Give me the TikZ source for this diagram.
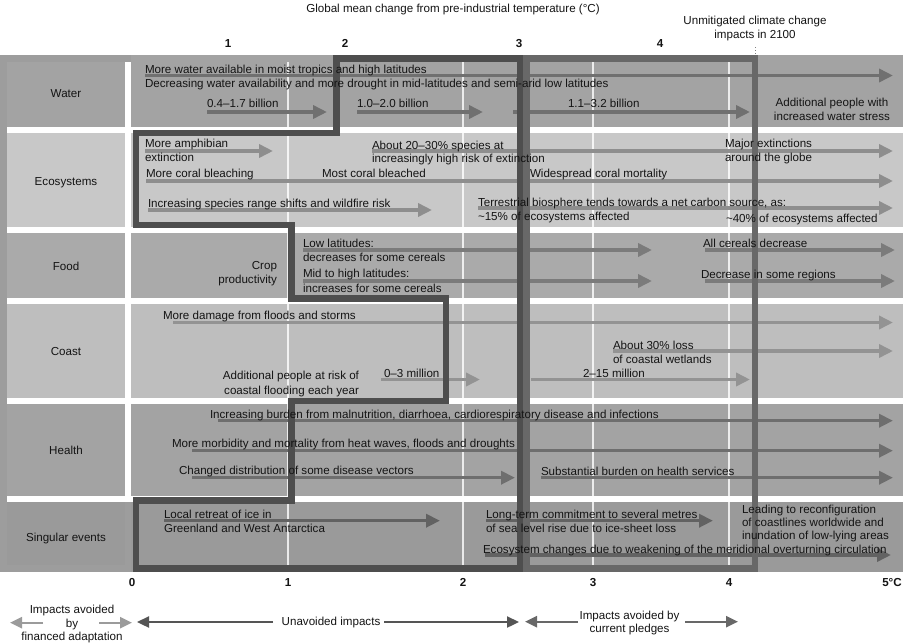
\documentclass[tikz,border=0pt]{standalone}
\usepackage{fontspec}
\setmainfont{Liberation Sans}
\usetikzlibrary{arrows.meta}
\definecolor{txt}{HTML}{141414}
\definecolor{framegray}{HTML}{9D9D9D}
\definecolor{rowW}{HTML}{A3A3A3}
\definecolor{rowE}{HTML}{C8C8C8}
\definecolor{rowF}{HTML}{AAAAAA}
\definecolor{rowC}{HTML}{BEBEBE}
\definecolor{rowH}{HTML}{A3A3A3}
\definecolor{rowS}{HTML}{9A9A9A}
\definecolor{arW}{HTML}{707070}
\definecolor{arE}{HTML}{8E8E8E}
\definecolor{arF}{HTML}{7B7B7B}
\definecolor{arC}{HTML}{939393}
\definecolor{arH}{HTML}{6E6E6E}
\definecolor{arS}{HTML}{626262}
\definecolor{frameA}{HTML}{4E4E4E}
\definecolor{frameB}{HTML}{686868}
\definecolor{arLight}{HTML}{9B9B9B}
\definecolor{arDark}{HTML}{555555}
\definecolor{arMid}{HTML}{686868}
\newcommand\txtL[4]{\node[anchor=base west] (#1) at (#2,#3) {#4};}
\newcommand\txtR[4]{\node[anchor=base east] (#1) at (#2,#3) {#4};}
\newcommand\txtC[4]{\node[anchor=base] (#1) at (#2,#3) {#4};}
\newcommand\tbar[5]{\coordinate (#1s) at (#2,#4); \coordinate (#1e) at (#3,#4); \draw[rowbar,draw=#5] (#1s) -- (#1e);}
\newcommand\lbar[5]{\coordinate (#1s) at (#2,#4); \coordinate (#1e) at (#3,#4); \draw[legbar,draw=#5] (#1s) -- (#1e);}
\begin{document}
\begin{tikzpicture}[x=1pt,y=-1pt,
  every node/.style={inner sep=0pt, outer sep=0pt, font=\fontsize{11.6}{14}\selectfont, text=txt},
  rowbar/.style={line width=3.5pt, -{Triangle[length=14pt,width=13pt]}},
  legbar/.style={line width=2.3pt, -{Triangle[length=12pt,width=11pt]}},
  axisnum/.style={font=\fontsize{11.6}{14}\selectfont\bfseries},
  gridline/.style={white, opacity=0.8, line width=1.2pt},
  frameAline/.style={frameA, line width=6.7pt, line join=miter},
  frameBline/.style={frameB, line width=6.7pt, line join=miter}]
\useasboundingbox (0,0) rectangle (905,643);
\fill[white] (0,0) rectangle (905,643);
% outer frame (financed adaptation)
\fill[framegray] (0,55) rectangle (131,572);
% content rows
\fill[rowW] (131,55) rectangle (903,127);
\fill[rowE] (131,133) rectangle (903,227);
\fill[rowF] (131,233) rectangle (903,297.5);
\fill[rowC] (131,304) rectangle (903,398);
\fill[rowH] (131,403.5) rectangle (903,496);
\fill[rowS] (131,502) rectangle (903,572);
% white separators in frame area
\fill[white] (7,127) rectangle (131,133);
\fill[white] (7,227) rectangle (131,233);
\fill[white] (7,297.5) rectangle (131,304);
\fill[white] (7,398) rectangle (131,403.5);
\fill[white] (7,496) rectangle (131,502);
\fill[white] (125,62) rectangle (131,502);
% label boxes
\fill[rowW] (7,62) rectangle (125,127);
\fill[rowE] (7,133) rectangle (125,227);
\fill[rowF] (7,233) rectangle (125,297.5);
\fill[rowC] (7,304) rectangle (125,398);
\fill[rowH] (7,403.5) rectangle (125,496);
\fill[rowS] (7,502) rectangle (125,565);
% grid lines
\foreach \gx in {288,463,593,729} {\draw[gridline] (\gx,62) -- (\gx,568);}
% Water bars
\tbar{w1}{145}{893}{75.5}{arW}
\tbar{w2}{207}{327}{112}{arW}
\tbar{w3}{357}{483}{112}{arW}
\tbar{w4}{513}{750}{112}{arW}
% Ecosystems bars
\tbar{e1}{145}{273}{151}{arE}
\tbar{e2}{372}{893}{151}{arE}
\tbar{e3}{146}{893}{181}{arE}
\tbar{e4}{148}{432}{210}{arE}
\tbar{e5}{478}{893}{208}{arE}
% Food bars
\tbar{f1}{303}{652}{250}{arF}
\tbar{f2}{303}{652}{281}{arF}
\tbar{f3}{705}{895}{250}{arF}
\tbar{f4}{705}{895}{281}{arF}
% Coast bars
\tbar{c1}{173}{893}{322.5}{arC}
\tbar{c2}{613}{893}{351}{arC}
\tbar{c3}{381}{480}{379.5}{arC}
\tbar{c4}{531}{750}{379.5}{arC}
% Health bars
\tbar{h1}{218}{893}{420.7}{arH}
\tbar{h2}{192}{893}{450.7}{arH}
\tbar{h3}{192}{515}{477.7}{arH}
\tbar{h4}{541}{893}{477.7}{arH}
% Singular bars
\tbar{s1}{164}{440}{520.7}{arS}
\tbar{s2}{486}{713}{520.7}{arS}
\tbar{s3}{485}{891}{555}{arS}
% frame A (unavoided impacts)
\draw[frameAline] (336.7,58.5) -- (520,58.5) -- (520,568.5) -- (136,568.5) -- (136,500.5)
  -- (291.7,500.5) -- (291.7,401) -- (446,401) -- (446,298.5) -- (291.7,298.5)
  -- (291.7,225) -- (136,225) -- (136,133) -- (336.7,133) -- cycle;
% frame B (current pledges)
\draw[frameBline] (526.7,58.5) rectangle (755,568.5);
% dotted tick
\draw[gray, line width=1pt, dotted] (755,47) -- (755,55);
% labels
\txtC{lW}{66}{97.5}{Water}
\txtC{lE}{66}{185}{Ecosystems}
\txtC{lF}{66}{270}{Food}
\txtC{lC}{66}{355}{Coast}
\txtC{lH}{66}{454}{Health}
\txtC{lS}{66}{541}{Singular events}
% top axis
\txtC{title}{453}{12.5}{Global mean change from pre-industrial temperature (°C)}
\node[axisnum, anchor=base] (tn1) at (228,47) {1};
\node[axisnum, anchor=base] (tn2) at (345,47) {2};
\node[axisnum, anchor=base] (tn3) at (519,47) {3};
\node[axisnum, anchor=base] (tn4) at (660,47) {4};
\txtC{unm1}{755}{24.5}{Unmitigated climate change}
\txtC{unm2}{755}{38.5}{impacts in 2100}
% Water texts
\txtL{tw1}{145}{73.5}{More water available in moist tropics and high latitudes}
\txtL{tw2}{145}{87.5}{Decreasing water availability and more drought in mid-latitudes and semi-arid low latitudes}
\txtL{tw3}{207}{107.5}{0.4--1.7 billion}
\txtL{tw4}{357}{107.5}{1.0--2.0 billion}
\txtL{tw5}{568}{107.5}{1.1--3.2 billion}
\txtC{tw6}{832}{106}{Additional people with}
\txtC{tw7}{832}{120}{increased water stress}
% Ecosystems texts
\txtL{te1}{145}{147}{More amphibian}
\txtL{te2}{145}{161}{extinction}
\txtL{te3}{372}{149}{About 20--30\% species at}
\txtL{te4}{372}{162}{increasingly high risk of extinction}
\txtL{te5}{725}{147.5}{Major extinctions}
\txtL{te6}{725}{161}{around the globe}
\txtL{te7}{146}{177.5}{More coral bleaching}
\txtL{te8}{322}{177.5}{Most coral bleached}
\txtL{te9}{530}{177.5}{Widespread coral mortality}
\txtL{te10}{148}{207.5}{Increasing species range shifts and wildfire risk}
\txtL{te11}{478}{206}{Terrestrial biosphere tends towards a net carbon source, as:}
\txtL{te12}{478}{220}{\textasciitilde 15\% of ecosystems affected}
\txtL{te13}{726}{222.5}{\textasciitilde 40\% of ecosystems affected}
% Food texts
\txtR{tf1}{277}{269}{Crop}
\txtR{tf2}{277}{283}{productivity}
\txtL{tf3}{303}{247.5}{Low latitudes:}
\txtL{tf4}{303}{261.5}{decreases for some cereals}
\txtL{tf5}{303}{277.5}{Mid to high latitudes:}
\txtL{tf6}{303}{292}{increases for some cereals}
\txtL{tf7}{703}{247.5}{All cereals decrease}
\txtL{tf8}{701}{278.5}{Decrease in some regions}
% Coast texts
\txtL{tc1}{163}{319.5}{More damage from floods and storms}
\txtL{tc2}{613}{349}{About 30\% loss}
\txtL{tc3}{613}{363}{of coastal wetlands}
\txtR{tc4}{359}{379.5}{Additional people at risk of}
\txtR{tc5}{359}{394}{coastal flooding each year}
\txtL{tc6}{384}{377}{0--3 million}
\txtL{tc7}{583}{377}{2--15 million}
% Health texts
\txtL{th1}{210}{418}{Increasing burden from malnutrition, diarrhoea, cardiorespiratory disease and infections}
\txtL{th2}{172}{447}{More morbidity and mortality from heat waves, floods and droughts}
\txtL{th3}{179}{474.5}{Changed distribution of some disease vectors}
\txtL{th4}{541}{475.5}{Substantial burden on health services}
% Singular texts
\txtL{ts1}{164}{518}{Local retreat of ice in}
\txtL{ts2}{164}{532.5}{Greenland and West Antarctica}
\txtL{ts3}{486}{518}{Long-term commitment to several metres}
\txtL{ts4}{486}{532.5}{of sea level rise due to ice-sheet loss}
\txtL{ts5}{742}{513}{Leading to reconfiguration}
\txtL{ts6}{742}{526.5}{of coastlines worldwide and}
\txtL{ts7}{742}{539.5}{inundation of low-lying areas}
\txtL{ts8}{483}{553}{Ecosystem changes due to weakening of the meridional overturning circulation}
% bottom axis
\node[axisnum, anchor=base] (bn0) at (132,586) {0};
\node[axisnum, anchor=base] (bn1) at (288,586) {1};
\node[axisnum, anchor=base] (bn2) at (463,586) {2};
\node[axisnum, anchor=base] (bn3) at (593,586) {3};
\node[axisnum, anchor=base] (bn4) at (729,586) {4};
\node[axisnum, anchor=base] (bn5) at (892,586) {5°C};
% legend
\txtC{la1}{72}{613}{Impacts avoided}
\txtC{la2}{72}{627}{by}
\txtC{la3}{72}{640}{financed adaptation}
\lbar{g1}{43}{10}{622.7}{arLight}
\lbar{g2}{99}{132}{622.7}{arLight}
\txtC{lb1}{331}{625.5}{Unavoided impacts}
\lbar{g3}{273}{137}{622}{arDark}
\lbar{g4}{384}{519}{622}{arDark}
\txtC{lc1}{629.5}{619.5}{Impacts avoided by}
\txtC{lc2}{629.5}{632.5}{current pledges}
\lbar{g5}{578}{525}{621.7}{arMid}
\lbar{g6}{685}{738}{621.7}{arMid}
\end{tikzpicture}
\end{document}
